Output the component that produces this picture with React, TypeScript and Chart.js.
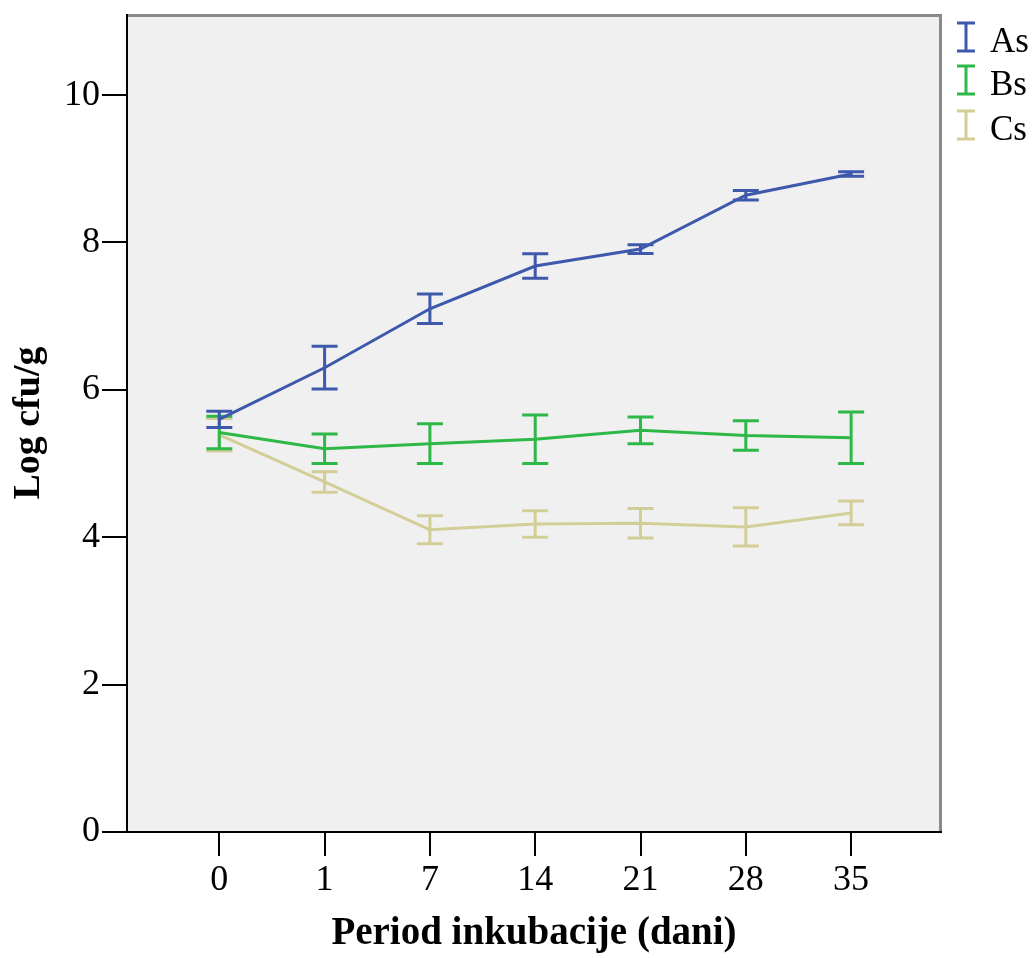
import React, { useEffect, useRef } from 'react';
import { Chart, registerables } from 'chart.js';

Chart.register(...registerables);

// ---- data ----
const categories = ['0', '1', '7', '14', '21', '28', '35'];
const seriesNames = ['As', 'Bs', 'Cs'];
const asMean = [5.6, 6.3, 7.1, 7.68, 7.91, 8.64, 8.93];
const asErr = [0.11, 0.29, 0.2, 0.165, 0.06, 0.065, 0.03];
const bsMean = [5.42, 5.2, 5.27, 5.33, 5.45, 5.38, 5.35];
const bsErr = [0.22, 0.2, 0.27, 0.33, 0.18, 0.2, 0.35];
const csMean = [5.39, 4.75, 4.1, 4.18, 4.19, 4.14, 4.33];
const csErr = [0.22, 0.14, 0.19, 0.18, 0.2, 0.26, 0.16];
const yTicks = [0, 2, 4, 6, 8, 10];
const xTitle = 'Period inkubacije (dani)';
const yTitle = 'Log cfu/g';

const colors = ['#3E58AC', '#2EB848', '#D3CE97'];
const FONT = "'Liberation Serif', 'Times New Roman', serif";

const errorBarPlugin = {
  id: 'errorBars',
  afterDatasetDraw(chart: any, args: any) {
    const ds = chart.data.datasets[args.index];
    const errs: number[] = ds.errs;
    if (!errs) return;
    const meta = chart.getDatasetMeta(args.index);
    const ys = chart.scales.y;
    const ctx = chart.ctx;
    ctx.save();
    ctx.strokeStyle = ds.borderColor;
    ctx.lineWidth = 3;
    ctx.lineCap = 'butt';
    meta.data.forEach((pt: any, i: number) => {
      const v = ds.data[i].y;
      const y1 = ys.getPixelForValue(v + errs[i]);
      const y2 = ys.getPixelForValue(v - errs[i]);
      const x = pt.x;
      const hw = 13;
      ctx.beginPath();
      ctx.moveTo(x, y1);
      ctx.lineTo(x, y2);
      ctx.moveTo(x - hw, y1);
      ctx.lineTo(x + hw, y1);
      ctx.moveTo(x - hw, y2);
      ctx.lineTo(x + hw, y2);
      ctx.stroke();
    });
    ctx.restore();
  },
};

const framePlugin = {
  id: 'frame',
  beforeDraw(chart: any) {
    const { left, right, top, bottom } = chart.chartArea;
    const ctx = chart.ctx;
    ctx.save();
    ctx.fillStyle = '#F0F0F0';
    ctx.fillRect(left, top, right - left, bottom - top);
    ctx.restore();
  },
  afterDraw(chart: any) {
    const { left, right, top, bottom } = chart.chartArea;
    const ctx = chart.ctx;
    ctx.save();
    ctx.strokeStyle = '#8A8A8A';
    ctx.lineWidth = 3;
    ctx.beginPath();
    ctx.moveTo(left, top + 1.5);
    ctx.lineTo(right - 1.5, top + 1.5);
    ctx.lineTo(right - 1.5, bottom);
    ctx.stroke();
    ctx.strokeStyle = '#000';
    ctx.lineWidth = 2;
    ctx.beginPath();
    ctx.moveTo(left + 1, top);
    ctx.lineTo(left + 1, bottom);
    ctx.moveTo(left - 24, bottom);
    ctx.lineTo(right, bottom);
    ctx.stroke();

    // legend
    const baselines = [52, 95, 140];
    chart.data.datasets.forEach((ds: any, i: number) => {
      const b = baselines[i];
      const cx = 966;
      ctx.strokeStyle = ds.borderColor;
      ctx.lineWidth = 3;
      ctx.beginPath();
      ctx.moveTo(cx, b - 29);
      ctx.lineTo(cx, b - 1);
      ctx.moveTo(cx - 9, b - 29);
      ctx.lineTo(cx + 9, b - 29);
      ctx.moveTo(cx - 9, b - 1);
      ctx.lineTo(cx + 9, b - 1);
      ctx.stroke();
      ctx.fillStyle = '#000';
      ctx.font = `35px ${FONT}`;
      ctx.textBaseline = 'alphabetic';
      ctx.textAlign = 'left';
      ctx.fillText(ds.label, 990, b);
    });
    ctx.restore();
  },
};

export default function App() {
  const ref = useRef<HTMLCanvasElement>(null);
  useEffect(() => {
    if (!ref.current) return;
    const means = [asMean, bsMean, csMean];
    const errs = [asErr, bsErr, csErr];
    const chart = new Chart(ref.current, {
      type: 'line',
      data: {
        datasets: seriesNames.map((name, k) => ({
          label: name,
          data: means[k].map((y, i) => ({ x: i, y })),
          errs: errs[k],
          borderColor: colors[k],
          backgroundColor: colors[k],
          borderWidth: 3,
          pointRadius: 0,
          tension: 0,
          fill: false,
        })) as any,
      },
      options: {
        animation: false,
        responsive: true,
        maintainAspectRatio: false,
        layout: { padding: { top: 14, right: 94, left: 0, bottom: 0 } },
        plugins: {
          legend: { display: false },
          tooltip: { enabled: false },
        },
        scales: {
          x: {
            type: 'linear',
            min: -0.886,
            max: 6.863,
            afterBuildTicks: (s: any) => {
              s.ticks = categories.map((_, i) => ({ value: i }));
            },
            afterFit: (s: any) => {
              s.height = 126;
              s.paddingLeft = 0;
              s.paddingRight = 0;
            },
            ticks: {
              callback: (v: any) => categories[v as number],
              color: '#000',
              font: { family: FONT, size: 36 },
              padding: 3,
              maxRotation: 0,
              autoSkip: false,
            },
            grid: {
              drawOnChartArea: false,
              drawTicks: true,
              tickLength: 24,
              color: '#000',
              lineWidth: 2,
            },
            border: { display: false },
            title: {
              display: true,
              text: xTitle,
              color: '#000',
              font: { family: FONT, size: 39, weight: 'bold' },
              padding: { top: 0, bottom: 1 },
            },
          },
          y: {
            type: 'linear',
            min: 0,
            max: 11.1,
            afterBuildTicks: (s: any) => {
              s.ticks = yTicks.map((v) => ({ value: v }));
            },
            afterFit: (s: any) => {
              s.width = 126;
              s.paddingTop = 0;
              s.paddingBottom = 0;
            },
            ticks: {
              color: '#000',
              font: { family: FONT, size: 36 },
              padding: 2,
            },
            grid: {
              drawOnChartArea: false,
              drawTicks: true,
              tickLength: 24,
              color: '#000',
              lineWidth: 2,
            },
            border: { display: false },
            title: {
              display: true,
              text: yTitle,
              color: '#000',
              font: { family: FONT, size: 38, weight: 'bold' },
              padding: { top: 6, bottom: 0 },
            },
          },
        },
      },
      plugins: [framePlugin, errorBarPlugin],
    });
    return () => chart.destroy();
  }, []);
  return (
    <div style={{ position: 'fixed', left: 0, top: 0, width: 1036, height: 958, background: '#fff' }}>
      <canvas ref={ref} />
    </div>
  );
}
